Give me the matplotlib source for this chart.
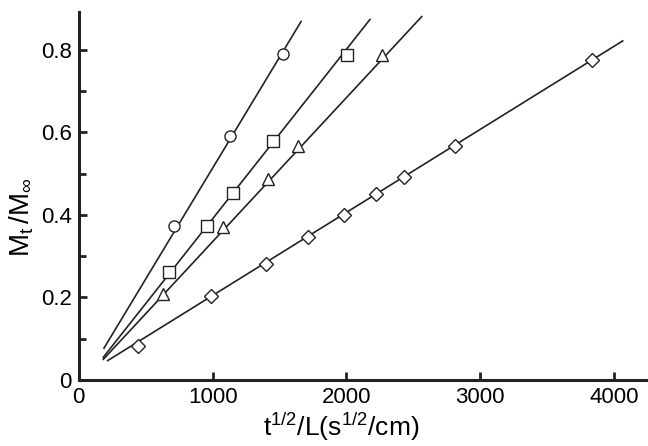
import matplotlib
matplotlib.use('Agg')
import matplotlib.pyplot as plt
from matplotlib.ticker import MultipleLocator

plt.rcParams['font.family'] = ['Liberation Sans', 'DejaVu Sans']
plt.rcParams['mathtext.fontset'] = 'custom'
plt.rcParams['mathtext.rm'] = 'Liberation Sans'
plt.rcParams['mathtext.it'] = 'Liberation Sans'

# measured points
circle_x = [714, 1130, 1528]
circle_y = [0.374, 0.591, 0.790]
square_x = [674, 956, 1150, 1452, 2002]
square_y = [0.263, 0.373, 0.454, 0.580, 0.788]
tri_x = [632, 1080, 1412, 1636, 2264]
tri_y = [0.208, 0.370, 0.488, 0.568, 0.788]
diam_x = [445, 986, 1399, 1710, 1982, 2219, 2433, 2815, 3833]
diam_y = [0.083, 0.204, 0.281, 0.346, 0.400, 0.450, 0.493, 0.567, 0.776]

# fitted lines (end points)
circle_fit_x = [188, 1661]
circle_fit_y = [0.077, 0.869]
square_fit_x = [183, 2176]
square_fit_y = [0.055, 0.874]
tri_fit_x = [183, 2563]
tri_fit_y = [0.050, 0.881]
diam_fit_x = [216, 4065]
diam_fit_y = [0.047, 0.822]

fig = plt.figure(figsize=(6.48, 4.46), dpi=100)
ax = fig.add_axes([0.1216, 0.148, 0.8784, 0.825])

lw = 1.2
for fx, fy in [(circle_fit_x, circle_fit_y), (square_fit_x, square_fit_y),
               (tri_fit_x, tri_fit_y), (diam_fit_x, diam_fit_y)]:
    ax.plot(fx, fy, color='#222222', lw=lw, zorder=2)

mk = dict(ls='none', mfc='white', mec='#222222', mew=1.0, zorder=3)
ax.plot(circle_x, circle_y, marker='o', ms=8, **mk)
ax.plot(square_x, square_y, marker='s', ms=9, **mk)
ax.plot(tri_x, tri_y, marker='^', ms=8, **mk)
ax.plot(diam_x, diam_y, marker='D', ms=7, **mk)

ax.set_xlim(0, 4254)
ax.set_ylim(0, 0.892)
ax.spines['top'].set_visible(False)
ax.spines['right'].set_visible(False)
for s in ['left', 'bottom']:
    ax.spines[s].set_linewidth(2.2)
    ax.spines[s].set_color('#222222')

ax.xaxis.set_major_locator(MultipleLocator(1000))
ax.yaxis.set_major_locator(MultipleLocator(0.2))
ax.yaxis.set_minor_locator(MultipleLocator(0.1))
ax.yaxis.set_major_formatter(lambda v, p: '0' if v == 0 else f'{v:.1f}')
ax.tick_params(axis='both', which='major', direction='in', length=6, width=2,
               labelsize=16, color='#222222', pad=5)
ax.tick_params(axis='y', which='minor', direction='in', length=5, width=2, color='#222222')

ax.set_xlabel(r'$\mathregular{t^{1/2}/L(s^{1/2}/cm)}$', fontsize=19)
ax.xaxis.set_label_coords(0.461, -0.083)
ax.set_ylabel(r'$\mathregular{M_t\,/M_{\infty}}$', fontsize=20)
ax.yaxis.set_label_coords(-0.075, 0.443)

fig.savefig('out.png', dpi=100)
